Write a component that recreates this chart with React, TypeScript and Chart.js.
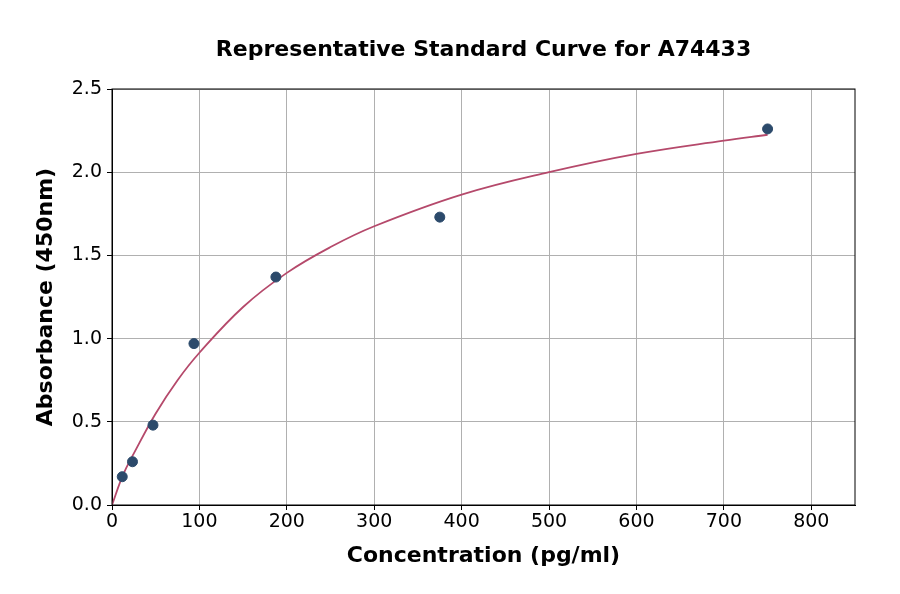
import { useEffect, useRef } from 'react';
import Chart from 'chart.js/auto';

// measured standards
const concentrations = [11.72, 23.44, 46.88, 93.75, 187.5, 375, 750];
const absorbances = [0.17, 0.26, 0.48, 0.97, 1.37, 1.73, 2.26];

// fitted curve
const curveX = [0, 12.5, 25, 50, 75, 100, 150, 200, 250, 300, 400, 500, 600, 700, 750];
const curveY = [0.0, 0.18, 0.31, 0.55, 0.75, 0.915, 1.19, 1.395, 1.55, 1.675, 1.865, 2.0, 2.11, 2.19, 2.225];

const xTicks = [0, 100, 200, 300, 400, 500, 600, 700, 800];
const yTicks = [0, 0.5, 1.0, 1.5, 2.0, 2.5];

const TITLE = 'Representative Standard Curve for A74433';
const FONT = "'DejaVu Sans', sans-serif";

// box around the plot + title centred on the plot area
const frame = {
  id: 'frame',
  afterDatasetsDraw(chart: any) {
    const { ctx, chartArea: a } = chart;
    ctx.save();
    ctx.strokeStyle = '#000';
    ctx.lineWidth = 1;
    ctx.strokeRect(a.left, a.top, a.right - a.left, a.bottom - a.top);
    ctx.fillStyle = '#000';
    ctx.font = `bold 22px ${FONT}`;
    ctx.textAlign = 'center';
    ctx.textBaseline = 'middle';
    ctx.fillText(TITLE, (a.left + a.right) / 2, 50);
    ctx.restore();
  },
};

export default function App() {
  const canvasRef = useRef<HTMLCanvasElement>(null);
  const chartRef = useRef<Chart | null>(null);

  useEffect(() => {
    document.body.style.margin = '0';
    if (!canvasRef.current) return;
    if (chartRef.current) chartRef.current.destroy();
    const ctx = canvasRef.current.getContext('2d');
    if (!ctx) return;

    chartRef.current = new Chart(ctx, {
      type: 'scatter',
      data: {
        datasets: [
          {
            type: 'line',
            data: curveX.map((x, i) => ({ x, y: curveY[i] })),
            borderColor: '#b5496b',
            borderWidth: 1.8,
            pointRadius: 0,
            tension: 0.4,
            fill: false,
            order: 2,
          },
          {
            data: concentrations.map((x, i) => ({ x, y: absorbances[i] })),
            backgroundColor: '#2c4a6b',
            borderColor: '#2c4a6b',
            pointRadius: 5,
            order: 1,
          },
        ],
      },
      options: {
        animation: false,
        responsive: false,
        devicePixelRatio: 1,
        layout: { padding: { left: 0, right: 45, top: 89, bottom: 0 } },
        plugins: {
          legend: { display: false },
          tooltip: { enabled: false },
          title: { display: false },
        },
        scales: {
          x: {
            type: 'linear',
            min: 0,
            max: 850,
            afterBuildTicks: (s: any) => { s.ticks = xTicks.map((v) => ({ value: v })); },
            afterFit: (s: any) => { s.height = 89; },
            grid: { color: '#b0b0b0', tickColor: '#000', tickLength: 5 },
            border: { color: '#000' },
            ticks: {
              color: '#000',
              padding: 1,
              maxRotation: 0,
              font: { size: 19, family: FONT },
              callback: (v: any) => `${v}`,
            },
            title: {
              display: true,
              text: 'Concentration (pg/ml)',
              color: '#000',
              font: { size: 22, weight: 'bold', family: FONT },
              padding: { top: 0, bottom: 24.8 },
            },
          },
          y: {
            type: 'linear',
            min: 0,
            max: 2.5,
            afterBuildTicks: (s: any) => { s.ticks = yTicks.map((v) => ({ value: v })); },
            afterFit: (s: any) => { s.width = 112; },
            grid: { color: '#b0b0b0', tickColor: '#000', tickLength: 5 },
            border: { color: '#000' },
            ticks: {
              color: '#000',
              padding: 5,
              font: { size: 19, family: FONT },
              callback: (v: any) => Number(v).toFixed(1),
            },
            title: {
              display: true,
              text: 'Absorbance (450nm)',
              color: '#000',
              font: { size: 22, weight: 'bold', family: FONT },
              padding: { top: 32.8, bottom: 0 },
            },
          },
        },
      },
      plugins: [frame],
    });

    return () => {
      if (chartRef.current) {
        chartRef.current.destroy();
        chartRef.current = null;
      }
    };
  }, []);

  return <canvas ref={canvasRef} width={900} height={594} style={{ display: 'block', width: 900, height: 594 }} />;
}
